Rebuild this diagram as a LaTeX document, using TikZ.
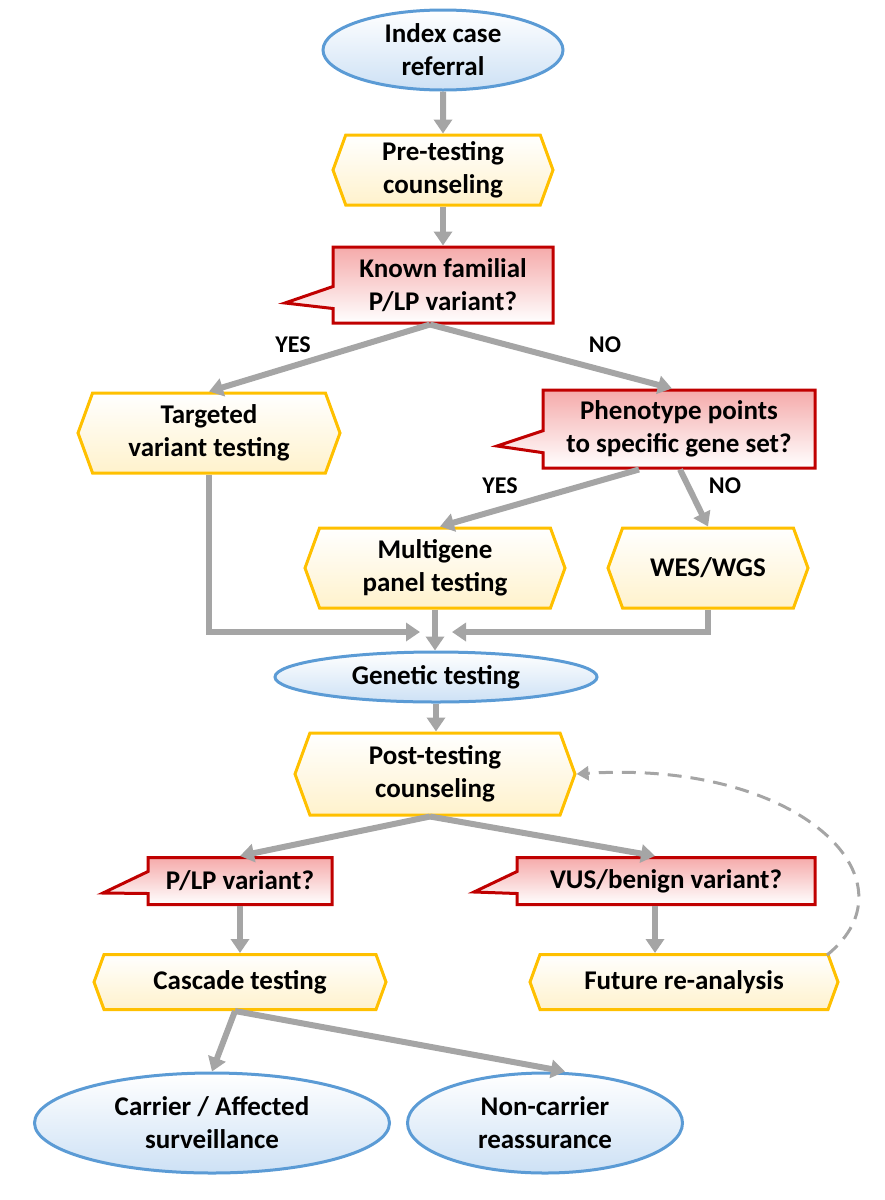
\documentclass[tikz,border=0pt]{standalone}
\usepackage{fontspec}
\setmainfont{Carlito}
\usetikzlibrary{arrows.meta,shapes.geometric,shapes.symbols,shapes.callouts}

\begin{document}
\begin{tikzpicture}[x=1pt,y=-1pt,
  oval/.style={ellipse,draw={rgb,255:red,91;green,155;blue,213},line width=3pt,top color=white,bottom color={rgb,255:red,205;green,225;blue,245},align=center,font=\fontsize{27}{33}\selectfont\bfseries,inner sep=0pt},
  stage/.style={signal,signal to=west and east,signal pointer angle=140,draw={rgb,255:red,255;green,192;blue,0},line width=3pt,top color=white,bottom color={rgb,255:red,255;green,242;blue,204},align=center,font=\fontsize{27}{33}\selectfont\bfseries,inner sep=0pt},
  ask/.style={rectangle callout,callout pointer width=22pt,draw={rgb,255:red,192;green,0;blue,0},line width=3pt,top color={rgb,255:red,245;green,170;blue,170},bottom color=white,align=center,font=\fontsize{27}{33}\selectfont\bfseries,inner sep=0pt},
  edge/.style={line width=6pt,draw={rgb,255:red,165;green,165;blue,165},-{Triangle[length=14pt,width=18pt]}},
  lbl/.style={font=\fontsize{24}{28}\selectfont\bfseries}]
\useasboundingbox (0,0) rectangle (885,1200);

\node (index)[oval,minimum width=240,minimum height=80] at (443,50) {Index case\\referral};
\node (pre)[stage,minimum width=220,minimum height=70] at (443,170) {Pre-testing\\counseling};
\node (known)[ask,minimum width=220,minimum height=76,callout absolute pointer={(285,303)}] at (443,285) {Known familial\\P/LP variant?};
\node (targeted)[stage,minimum width=262,minimum height=80] at (209,433) {Targeted\\variant testing};
\node (pheno)[ask,minimum width=272,minimum height=78,callout absolute pointer={(497,446)}] at (679,429) {Phenotype points\\to specific gene set?};
\node (panel)[stage,minimum width=260,minimum height=80] at (435,568) {Multigene\\panel testing};
\node (wes)[stage,minimum width=200,minimum height=80] at (708,568) {WES/WGS};
\node (genetic)[oval,minimum width=322,minimum height=50] at (436,677) {Genetic testing};
\node (post)[stage,minimum width=280,minimum height=82] at (435,774) {Post-testing\\counseling};
\node (plp)[ask,minimum width=184,minimum height=47,callout absolute pointer={(103,893)}] at (240,881) {P/LP variant?};
\node (vus)[ask,minimum width=298,minimum height=47,callout absolute pointer={(474,892)}] at (666,881) {VUS/benign variant?};
\node (cascade)[stage,minimum width=292,minimum height=55] at (240,982) {Cascade testing};
\node (future)[stage,minimum width=308,minimum height=55] at (684,982) {Future re-analysis};
\node (carrier)[oval,minimum width=355,minimum height=100] at (212,1123) {Carrier / Affected\\surveillance};
\node (noncarrier)[oval,minimum width=275,minimum height=100] at (545,1123) {Non-carrier\\reassurance};

\node (yes1)[lbl] at (293,345) {YES};
\node (no1)[lbl] at (605,345) {NO};
\node (yes2)[lbl] at (500,486) {YES};
\node (no2)[lbl] at (725,486) {NO};
\coordinate (joinL) at (420,632);
\coordinate (joinR) at (452,632);

\draw [edge] (index) to (pre);
\draw [edge] (pre.south) to (pre.south |- known.north);
\draw [edge] ([xshift=-13]known.south) to (targeted.north);
\draw [edge] ([xshift=-13]known.south) to ([xshift=-7]pheno.north);
\draw [edge] ([xshift=-40]pheno.south) to ([xshift=5]panel.north);
\draw [edge] ([xshift=1]pheno.south) to (wes.north);
\draw [edge] (targeted.south) |- (joinL);
\draw [edge] (wes.south) |- (joinR);
\draw [edge] (panel.south) to (panel.south |- genetic.north);
\draw [edge] (genetic.south) to (genetic.south |- post.north);
\draw [edge] ([xshift=-5]post.south) to (plp.north);
\draw [edge] ([xshift=-5]post.south) to ([xshift=-11]vus.north);
\draw [edge] (plp.south) to (plp.south |- cascade.north);
\draw [edge] ([xshift=-11]vus.south) to ([xshift=-11]vus.south |- future.north);
\draw [edge] ([xshift=-5]cascade.south) to (carrier.north);
\draw [edge] ([xshift=-5]cascade.south) to ([xshift=20]noncarrier.north);
\draw [line width=3pt,draw={rgb,255:red,165;green,165;blue,165},dash pattern=on 14pt off 9pt,-{Triangle[length=12pt,width=14pt]}]
  ([xshift=-2,yshift=-2]future.north east) .. controls (920,880) and (800,760) .. (post.east);
\end{tikzpicture}
\end{document}
